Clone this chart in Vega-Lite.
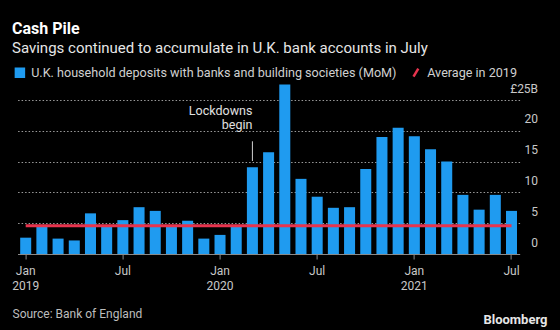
{
  "$schema": "https://vega.github.io/schema/vega-lite/v6.json",
  "width": 502,
  "height": 170,
  "autosize": "none",
  "padding": {"left": 17.6, "top": 84, "right": 40.4, "bottom": 76},
  "background": "#000000",
  "config": {"view": {"stroke": null}, "font": "Roboto"},
  "title": {
    "text": "Cash Pile",
    "subtitle": "Savings continued to accumulate in U.K. bank accounts in July",
    "anchor": "start",
    "frame": "group",
    "color": "#ffffff",
    "font": "Roboto",
    "fontSize": 16,
    "fontWeight": "bold",
    "subtitleFont": "Roboto",
    "subtitleColor": "#e6e6e6",
    "subtitleFontSize": 15,
    "subtitlePadding": 4,
    "dx": -5.6,
    "offset": 10
  },
  "encoding": {
    "x": {
      "field": "month", "type": "ordinal",
      "scale": {"paddingInner": 0.32, "paddingOuter": 0.16},
      "axis": {
        "values": ["2019-01", "2019-07", "2020-01", "2020-07", "2021-01", "2021-07"],
        "labelExpr": "slice(datum.value, 5) == '01' ? ['Jan', slice(datum.value, 0, 4)] : 'Jul'",
        "labelAngle": 0,
        "labelAlign": "center",
        "domainColor": "#8a8a8a",
        "tickColor": "#8a8a8a",
        "tickSize": 5,
        "labelColor": "#c8c8c8",
        "labelFont": "Roboto",
        "labelFontSize": 12,
        "labelPadding": 6,
        "labelLineHeight": 15,
        "title": "Source: Bank of England",
        "titleX": -5.6,
        "titleY": 63,
        "titleAlign": "left",
        "titleAnchor": "start",
        "titleBaseline": "alphabetic",
        "titleColor": "#bdbdbd",
        "titleFont": "Roboto",
        "titleFontWeight": "normal",
        "titleFontSize": 12
      }
    },
    "y": {
      "field": "value", "type": "quantitative",
      "scale": {"domain": [0, 27.6], "nice": false, "zero": true},
      "axis": {
        "orient": "right",
        "values": [0, 5, 10, 15, 20, 25],
        "grid": true,
        "gridColor": "#9a9a9a",
        "gridDash": [1.5, 2],
        "gridWidth": 1,
        "domain": false,
        "ticks": false,
        "labelOverlap": false,
        "labelAlign": "right",
        "labelPadding": 18,
        "labelBaseline": "middle",
        "labelOffset": -12,
        "labelExpr": "datum.value == 25 ? '£25B' : datum.label",
        "labelColor": "#c8c8c8",
        "labelFont": "Roboto",
        "labelFontSize": 12,
        "encode": {
          "labels": {"update": {"dx": {"signal": "datum.value == 25 ? 9 : 0"}}}
        },
        "title": "Bloomberg",
        "titleAngle": 0,
        "titleX": 27.4,
        "titleY": 239,
        "titleAlign": "right",
        "titleBaseline": "alphabetic",
        "titleColor": "#e6e6e6",
        "titleFont": "Roboto",
        "titleFontSize": 13,
        "titleFontWeight": "bold"
      }
    }
  },
  "layer": [
    {
      "data": {"values": [
        {"month": "2019-01", "value": 2.65},
        {"month": "2019-02", "value": 4.4},
        {"month": "2019-03", "value": 2.5},
        {"month": "2019-04", "value": 2.2},
        {"month": "2019-05", "value": 6.6},
        {"month": "2019-06", "value": 4.4},
        {"month": "2019-07", "value": 5.5},
        {"month": "2019-08", "value": 7.6},
        {"month": "2019-09", "value": 7.0},
        {"month": "2019-10", "value": 4.5},
        {"month": "2019-11", "value": 5.4},
        {"month": "2019-12", "value": 2.5},
        {"month": "2020-01", "value": 3.1},
        {"month": "2020-02", "value": 4.5},
        {"month": "2020-03", "value": 14.1},
        {"month": "2020-04", "value": 16.5},
        {"month": "2020-05", "value": 27.5},
        {"month": "2020-06", "value": 12.2},
        {"month": "2020-07", "value": 9.3},
        {"month": "2020-08", "value": 7.5},
        {"month": "2020-09", "value": 7.6},
        {"month": "2020-10", "value": 13.8},
        {"month": "2020-11", "value": 19.0},
        {"month": "2020-12", "value": 20.5},
        {"month": "2021-01", "value": 19.1},
        {"month": "2021-02", "value": 17.0},
        {"month": "2021-03", "value": 15.0},
        {"month": "2021-04", "value": 9.6},
        {"month": "2021-05", "value": 7.2},
        {"month": "2021-06", "value": 9.6},
        {"month": "2021-07", "value": 7.0}
      ]},
      "mark": {"type": "bar"},
      "encoding": {
        "color": {
          "datum": "U.K. household deposits with banks and building societies (MoM)",
          "type": "nominal",
          "scale": {
            "domain": ["U.K. household deposits with banks and building societies (MoM)", "Average in 2019"],
            "range": ["#1f9bf0", "#e8344e"]
          },
          "legend": {
            "orient": "none",
            "legendX": -4,
            "legendY": -18,
            "direction": "horizontal",
            "title": null,
            "labelColor": "#d0d0d0",
            "labelFont": "Roboto",
            "labelFontSize": 12.6,
            "labelLimit": 500,
            "symbolSize": 64,
            "columnPadding": 11,
            "labelOffset": 5,
            "encode": {
              "symbols": {
                "update": {
                  "shape": {"signal": "datum.label == 'Average in 2019' ? 'M-0.6,1L0.6,-1' : 'square'"},
                  "stroke": {"signal": "datum.label == 'Average in 2019' ? '#e8344e' : null"},
                  "strokeWidth": {"value": 2.5}
                }
              }
            }
          }
        }
      }
    },
    {
      "data": {"values": [{"month": "2019-01", "end": "2021-07", "value": 4.6}]},
      "mark": {"type": "rule", "strokeWidth": 3},
      "encoding": {
        "x2": {"field": "end"},
        "color": {"datum": "Average in 2019", "type": "nominal"}
      }
    },
    {
      "data": {"values": [{"month": "2020-03", "value": 15.1, "high": 18.3}]},
      "mark": {"type": "rule", "color": "#d0d0d0", "strokeWidth": 1},
      "encoding": {
        "y2": {"field": "high"}
      }
    },
    {
      "data": {"values": [{"month": "2020-03", "value": 22.0, "note": "Lockdowns\nbegin"}]},
      "mark": {"type": "text", "align": "right", "baseline": "bottom", "lineBreak": "\n", "lineHeight": 14, "fontSize": 12.5, "font": "Roboto", "color": "#e0e0e0"},
      "encoding": {
        "text": {"field": "note"}
      }
    }
  ]
}
